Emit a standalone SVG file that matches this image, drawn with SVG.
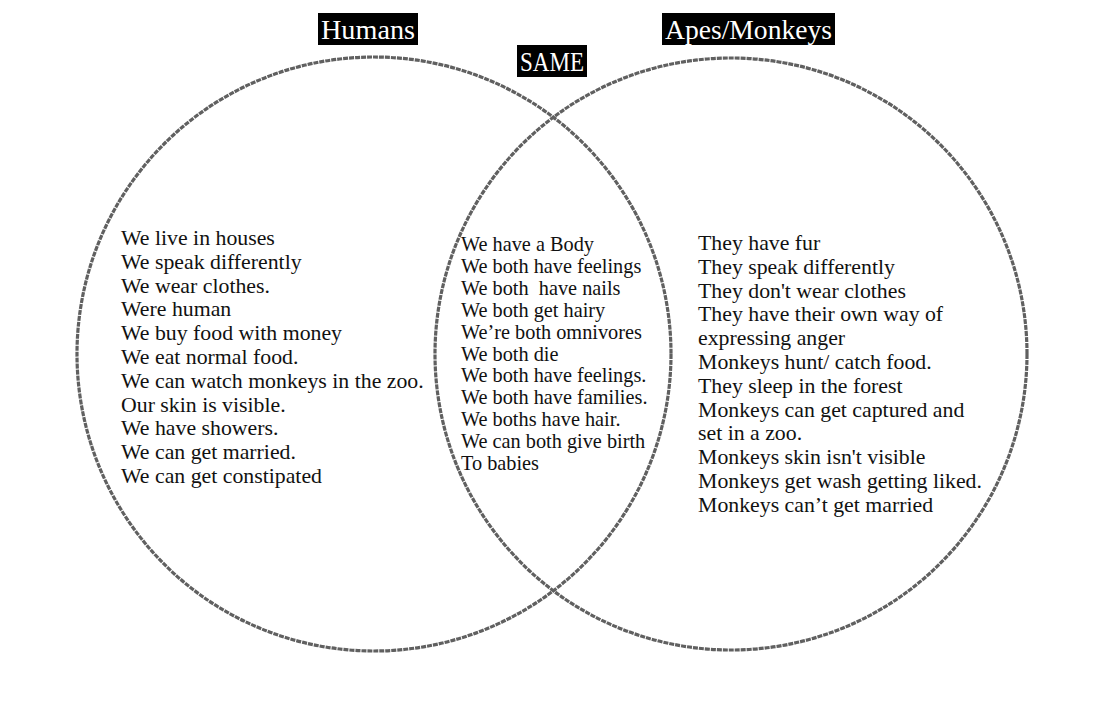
<svg xmlns="http://www.w3.org/2000/svg" width="1094" height="723" viewBox="0 0 1094 723">
<style>
.ring{fill:none;stroke:#606060;stroke-width:3.2;stroke-dasharray:5 1}
.lbl{fill:#000}
.lt{font-family:"Liberation Serif","Times New Roman",serif;font-size:28px;fill:#fff}
.body{font-family:"Liberation Serif","Times New Roman",serif;font-size:21.8px;fill:#111}
.mid{font-family:"Liberation Serif","Times New Roman",serif;font-size:20.3px;fill:#111}
</style>
<rect width="1094" height="723" fill="#fff"/>
<g id="humans-circle">
<circle class="ring" cx="374" cy="354" r="297"/>
</g>
<g id="apes-circle">
<circle class="ring" cx="731" cy="354" r="296"/>
</g>
<g id="label-humans">
<rect class="lbl" x="318" y="13" width="100" height="32"/>
<text class="lt" x="368" y="39" text-anchor="middle" textLength="94" lengthAdjust="spacingAndGlyphs">Humans</text>
</g>
<g id="label-same">
<rect class="lbl" x="517" y="45" width="70" height="32"/>
<text class="lt" x="552" y="71" text-anchor="middle" textLength="64" lengthAdjust="spacingAndGlyphs">SAME</text>
</g>
<g id="label-apes">
<rect class="lbl" x="662" y="13" width="173" height="32"/>
<text class="lt" x="748.5" y="39" text-anchor="middle" textLength="167" lengthAdjust="spacingAndGlyphs">Apes/Monkeys</text>
</g>
<g id="humans-text">
<text class="body" x="121" y="245">We live in houses</text>
<text class="body" x="121" y="268.8">We speak differently</text>
<text class="body" x="121" y="292.6">We wear clothes.</text>
<text class="body" x="121" y="316.4">Were human</text>
<text class="body" x="121" y="340.2">We buy food with money</text>
<text class="body" x="121" y="364">We eat normal food.</text>
<text class="body" x="121" y="387.8">We can watch monkeys in the zoo.</text>
<text class="body" x="121" y="411.6">Our skin is visible.</text>
<text class="body" x="121" y="435.4">We have showers.</text>
<text class="body" x="121" y="459.2">We can get married.</text>
<text class="body" x="121" y="483">We can get constipated</text>
</g>
<g id="same-text">
<text class="mid" x="461" y="251">We have a Body</text>
<text class="mid" x="461" y="272.9">We both have feelings</text>
<text class="mid" x="461" y="294.8" xml:space="preserve">We both  have nails</text>
<text class="mid" x="461" y="316.7">We both get hairy</text>
<text class="mid" x="461" y="338.6">We’re both omnivores</text>
<text class="mid" x="461" y="360.5">We both die</text>
<text class="mid" x="461" y="382.4">We both have feelings.</text>
<text class="mid" x="461" y="404.3">We both have families.</text>
<text class="mid" x="461" y="426.2">We boths have hair.</text>
<text class="mid" x="461" y="448.1">We can both give birth</text>
<text class="mid" x="461" y="470">To babies</text>
</g>
<g id="apes-text">
<text class="body" x="698" y="250">They have fur</text>
<text class="body" x="698" y="273.8">They speak differently</text>
<text class="body" x="698" y="297.6">They don't wear clothes</text>
<text class="body" x="698" y="321.4">They have their own way of</text>
<text class="body" x="698" y="345.2">expressing anger</text>
<text class="body" x="698" y="369">Monkeys hunt/ catch food.</text>
<text class="body" x="698" y="392.8">They sleep in the forest</text>
<text class="body" x="698" y="416.6">Monkeys can get captured and</text>
<text class="body" x="698" y="440.4">set in a zoo.</text>
<text class="body" x="698" y="464.2">Monkeys skin isn't visible</text>
<text class="body" x="698" y="488">Monkeys get wash getting liked.</text>
<text class="body" x="698" y="511.8">Monkeys can’t get married</text>
</g>
</svg>
